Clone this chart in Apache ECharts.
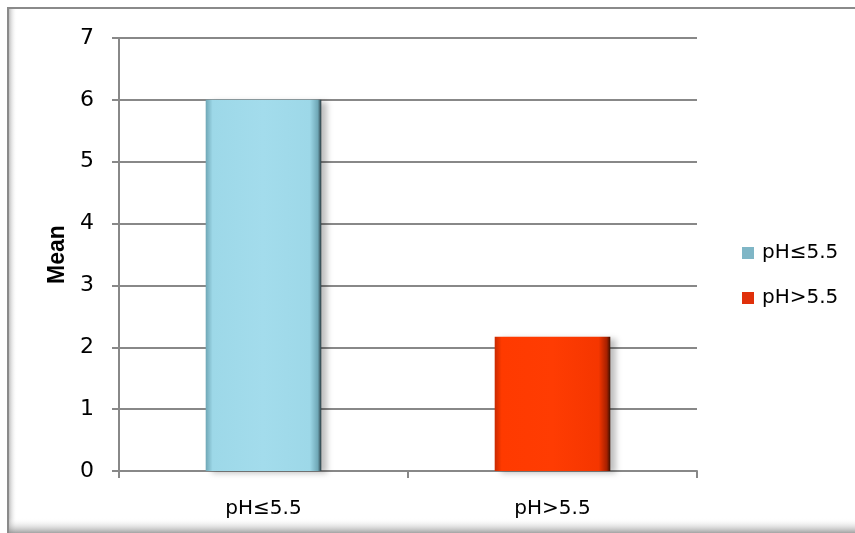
<!DOCTYPE html>
<html>
<head>
<meta charset="utf-8">
<script src="https://cdn.jsdelivr.net/npm/echarts@6/dist/echarts.min.js"></script>
<style>
  html, body { margin: 0; padding: 0; background: #fff; }
  #chart { width: 855px; height: 533px; }
</style>
</head>
<body>
<div id="chart"></div>
<script>
// Category labels and mean values per pH group
const categories = ['pH≤5.5', 'pH>5.5'];
const seriesNames = ['pH≤5.5', 'pH>5.5'];
const meanLow = [6, '-'];
const meanHigh = ['-', 2.17];
const yTicks = [0, 1, 2, 3, 4, 5, 6, 7];

const LABEL_FONT = 'DejaVu Sans';
const TICK_FONT = 'DejaVu Sans';

// Horizontal gradients give each bar a bevelled, rounded-edge look
const blueFill = new echarts.graphic.LinearGradient(0, 0, 1, 0, [
  { offset: 0, color: '#6fa7b6' },
  { offset: 0.06, color: '#9dd8e8' },
  { offset: 0.5, color: '#a3dcec' },
  { offset: 0.9, color: '#9dd8e8' },
  { offset: 0.97, color: '#6fa7b6' },
  { offset: 1, color: '#2a3a40' }
]);
const redFill = new echarts.graphic.LinearGradient(0, 0, 1, 0, [
  { offset: 0, color: '#c92a00' },
  { offset: 0.06, color: '#ff3a00' },
  { offset: 0.5, color: '#ff3c02' },
  { offset: 0.9, color: '#f53600' },
  { offset: 0.97, color: '#a52000' },
  { offset: 1, color: '#3a1000' }
]);

const chart = echarts.init(document.getElementById('chart'), null, { renderer: 'canvas' });

chart.setOption({
  backgroundColor: '#ffffff',
  animation: false,
  graphic: [
    // frame around the chart area
    { type: 'rect', shape: { x: 7, y: 7, width: 2, height: 526 }, style: { fill: '#8a8a8a' }, silent: true },
    { type: 'rect', shape: { x: 7, y: 7, width: 848, height: 2 }, style: { fill: '#8a8a8a' }, silent: true },
    {
      type: 'rect', shape: { x: 9, y: 9, width: 8, height: 524 }, silent: true,
      style: { fill: new echarts.graphic.LinearGradient(0, 0, 1, 0, [
        { offset: 0, color: 'rgba(150,150,150,0.6)' }, { offset: 1, color: 'rgba(255,255,255,0)' }]) }
    },
    {
      type: 'rect', shape: { x: 9, y: 518, width: 846, height: 15 }, silent: true,
      style: { fill: new echarts.graphic.LinearGradient(0, 0, 0, 1, [
        { offset: 0, color: 'rgba(255,255,255,0)' }, { offset: 1, color: 'rgba(140,140,140,0.8)' }]) }
    }
  ],
  grid: { left: 119, right: 158, top: 38, bottom: 62, containLabel: false },
  legend: {
    data: [
      { name: seriesNames[0], itemStyle: { color: '#7fb6c6' } },
      { name: seriesNames[1], itemStyle: { color: '#e0300a' } }
    ],
    orient: 'vertical',
    left: 737,
    top: 238,
    itemGap: 25,
    itemWidth: 12,
    itemHeight: 12,
    icon: 'rect',
    textStyle: { fontFamily: LABEL_FONT, fontSize: 20, color: '#000', padding: [0, 0, 0, 3] }
  },
  xAxis: {
    type: 'category',
    data: categories,
    axisLine: { lineStyle: { color: '#888', width: 2 } },
    axisTick: { show: true, length: 7, lineStyle: { color: '#888', width: 2 } },
    axisLabel: { fontFamily: LABEL_FONT, fontSize: 20, color: '#000', margin: 28 }
  },
  yAxis: {
    type: 'value',
    min: 0,
    max: 7,
    interval: 1,
    name: 'Mean',
    nameLocation: 'middle',
    nameGap: 46,
    nameTextStyle: { fontFamily: 'Liberation Sans', fontWeight: 'bold', fontSize: 23, color: '#000' },
    axisLine: { show: true, lineStyle: { color: '#888', width: 2 } },
    axisTick: { show: true, length: 7, lineStyle: { color: '#888', width: 2 } },
    axisLabel: {
      fontFamily: TICK_FONT, fontSize: 22, color: '#000', margin: 25,
      formatter: v => (yTicks.includes(v) ? String(v) : '')
    },
    splitLine: { lineStyle: { color: '#888', width: 2 } }
  },
  series: [
    {
      name: seriesNames[0],
      type: 'bar',
      stack: 'one',
      barWidth: '40%',
      data: meanLow,
      itemStyle: {
        color: blueFill,
        shadowColor: 'rgba(0,0,0,0.25)', shadowBlur: 6, shadowOffsetX: 6, shadowOffsetY: 2
      }
    },
    {
      name: seriesNames[1],
      type: 'bar',
      stack: 'one',
      barWidth: '40%',
      data: meanHigh,
      itemStyle: {
        color: redFill,
        shadowColor: 'rgba(0,0,0,0.25)', shadowBlur: 6, shadowOffsetX: 6, shadowOffsetY: 2
      }
    }
  ]
});
</script>
</body>
</html>
